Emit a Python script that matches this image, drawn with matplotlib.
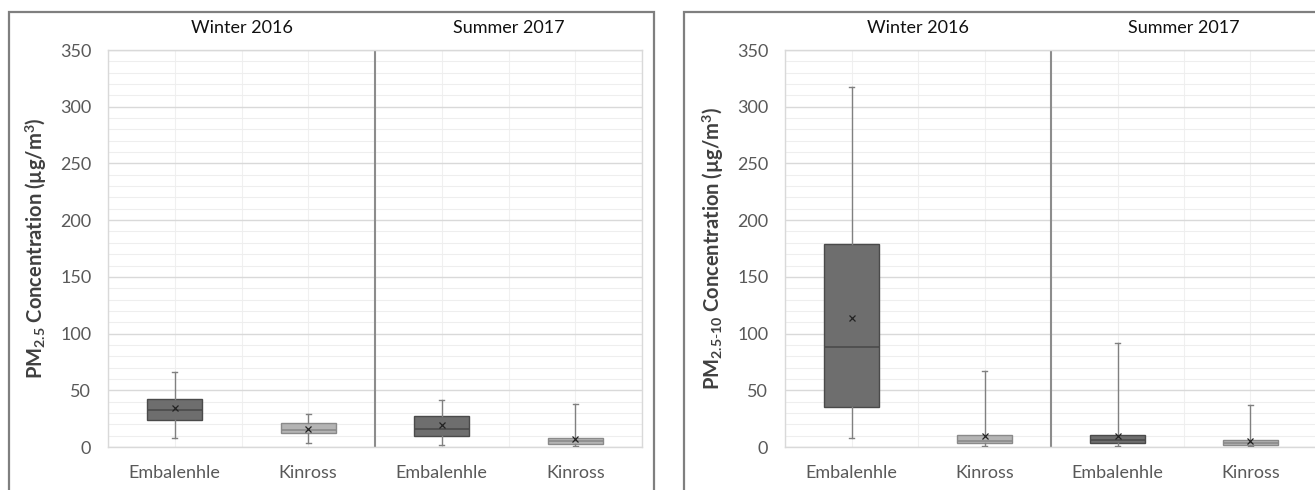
from matplotlib import pyplot as plt
from matplotlib.patches import Rectangle
from matplotlib import transforms
import numpy as np

# data
seasons = ['Winter 2016', 'Summer 2017']
sites = ['Embalenhle', 'Kinross', 'Embalenhle', 'Kinross']

# PM2.5: low whisker, q1, median, q3, high whisker, mean
pm25_low = [8, 3.5, 2, 0.5]
pm25_q1 = [24, 12.5, 10, 3]
pm25_med = [33, 15, 16, 5.5]
pm25_q3 = [42, 21, 27.5, 8]
pm25_high = [66, 29, 41, 38]
pm25_mean = [34, 16, 19, 7]

# PM2.5-10
pmc_low = [8, 0.5, 1, 0.5]
pmc_q1 = [35, 3.5, 3.5, 1.5]
pmc_med = [88, 5, 6, 3.5]
pmc_q3 = [179, 11, 11, 6]
pmc_high = [317, 67, 92, 37]
pmc_mean = [114, 10, 10, 5]

dark_fill = '#6e6e6e'
dark_edge = '#4a4a4a'
light_fill = '#b4b4b4'
light_edge = '#8a8a8a'

plt.rcParams['font.family'] = ['Lato', 'DejaVu Sans']
plt.rcParams['mathtext.fontset'] = 'custom'
plt.rcParams['mathtext.rm'] = 'Lato'
plt.rcParams['mathtext.bf'] = 'Lato:bold'
plt.rcParams['mathtext.it'] = 'Lato:italic'


def make_stats(low, q1, med, q3, high, mean):
    stats = []
    for i in range(len(low)):
        stats.append(dict(whislo=low[i], q1=q1[i], med=med[i], q3=q3[i],
                          whishi=high[i], mean=mean[i], fliers=[]))
    return stats


def draw_panel(ax, stats, ylabel):
    ax.set_xlim(-0.5, 3.5)
    ax.set_ylim(0, 350)
    for i, st in enumerate(stats):
        fill = dark_fill if i % 2 == 0 else light_fill
        edge = dark_edge if i % 2 == 0 else light_edge
        ax.bxp([st], positions=[i], widths=0.41, patch_artist=True,
               showmeans=True, showfliers=False,
               boxprops=dict(facecolor=fill, edgecolor=edge, linewidth=1),
               medianprops=dict(color=edge, linewidth=1.2),
               whiskerprops=dict(color='#808080', linewidth=1),
               capprops=dict(color='#808080', linewidth=1),
               capwidths=0.035,
               meanprops=dict(marker='x', markeredgecolor='#222222',
                              markersize=5, markeredgewidth=0.9),
               zorder=3)

    ax.set_yticks(np.arange(0, 351, 50))
    ax.set_yticks(np.arange(0, 351, 10), minor=True)
    ax.set_xticks([0, 1, 2, 3])
    ax.set_xticklabels(sites)
    ax.set_xticks([-0.5, 0.5, 1.5, 2.5, 3.5], minor=True)
    ax.grid(True, which='major', axis='y', color='#d9d9d9', linewidth=1, zorder=0)
    ax.grid(True, which='minor', axis='y', color='#eeeeee', linewidth=0.8, zorder=0)
    ax.grid(True, which='major', axis='x', color='#f0f0f0', linewidth=0.8, zorder=0)
    ax.grid(True, which='minor', axis='x', color='#f0f0f0', linewidth=0.8, zorder=0)
    ax.set_axisbelow(True)
    ax.tick_params(which='both', length=0)
    ax.tick_params(axis='y', pad=12, labelsize=13, labelcolor='#595959')
    ax.tick_params(axis='x', pad=13, labelsize=13, labelcolor='#595959')
    for sp in ax.spines.values():
        sp.set_color('#d9d9d9')
        sp.set_linewidth(1)
    ax.axvline(1.5, color='#8c8c8c', linewidth=1.5, zorder=2)

    trans = transforms.blended_transform_factory(ax.transData, ax.transAxes)
    for j, s in enumerate(seasons):
        ax.text(0.5 + 2 * j, 1.055, s, transform=trans, ha='center',
                va='center', fontsize=13, color='#111111')
    ax.set_ylabel(ylabel, fontsize=14.5, fontweight='bold', color='#404040',
                  labelpad=8)


fig = plt.figure(figsize=(13.15, 4.9), dpi=100)

# outer panel frames
fig.add_artist(Rectangle((9 / 1315, -0.05), 645 / 1315, 1.05 - 12 / 490,
                         transform=fig.transFigure, fill=False,
                         edgecolor='#7f7f7f', linewidth=1.6))
fig.add_artist(Rectangle((684 / 1315, -0.05), 0.6, 1.05 - 12 / 490,
                         transform=fig.transFigure, fill=False,
                         edgecolor='#7f7f7f', linewidth=1.6))

ax1 = fig.add_axes([108 / 1315, 1 - 447 / 490, 534 / 1315, 397 / 490])
ax2 = fig.add_axes([785 / 1315, 1 - 447 / 490, 532 / 1315, 397 / 490])

draw_panel(ax1, make_stats(pm25_low, pm25_q1, pm25_med, pm25_q3, pm25_high, pm25_mean),
           r'PM$_{\mathbf{2.5}}$ Concentration (µg/m$^{\mathbf{3}}$)')
draw_panel(ax2, make_stats(pmc_low, pmc_q1, pmc_med, pmc_q3, pmc_high, pmc_mean),
           r'PM$_{\mathbf{2.5\text{-}10}}$ Concentration (µg/m$^{\mathbf{3}}$)')

fig.savefig('out.png', dpi=100)
